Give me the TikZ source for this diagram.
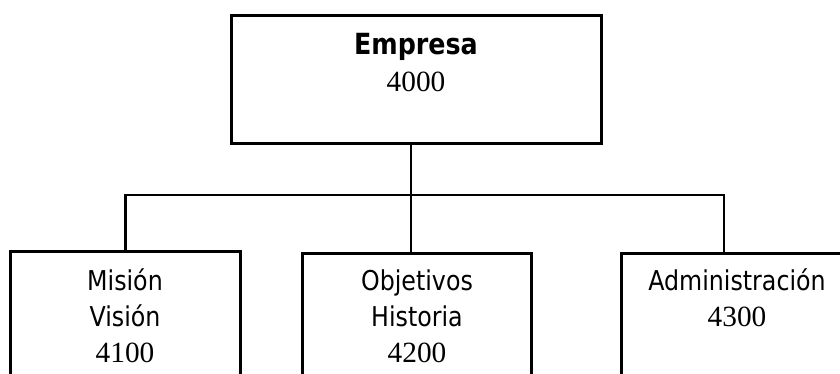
\documentclass[tikz,border=0pt]{standalone}
\usepackage{fontspec}
\setmainfont{Liberation Serif}
\setsansfont{DejaVu Sans}
\newcommand\alto[1]{\scalebox{1}[1.15]{#1}}

\begin{document}
\begin{tikzpicture}[x=0.75pt,y=-0.75pt,
    caja/.style={draw,line width=2.4pt,inner sep=0pt,anchor=north},
    linea/.style={line width=2.2pt},
    titulo/.style={anchor=base,font=\sffamily\fontsize{17.8}{21}\selectfont},
    numero/.style={anchor=base,font=\fontsize{22}{26}\selectfont}]
\useasboundingbox (0,0) rectangle (840,374);

% cajas
\node[caja,minimum width=278pt,minimum height=96pt] (empresa) at (416.5,14) {};
\node[caja,minimum width=172pt,minimum height=150pt] (mision) at (125.5,250) {};
\node[caja,minimum width=172pt,minimum height=150pt] (objetivos) at (417,252) {};
\node[caja,minimum width=172pt,minimum height=150pt] (admin) at (736,252) {};

% textos
\node[anchor=base,font=\sffamily\bfseries\fontsize{19}{23}\selectfont] (tempresa) at (416,55) {\alto{Empresa}};
\node[numero] (nempresa) at (416,92) {4000};

\node[titulo] (tmision) at (125,291) {\alto{Misión}};
\node[titulo] (tvision) at (125,327) {\alto{Visión}};
\node[numero] (nmision) at (125,363) {4100};

\node[titulo] (tobjetivos) at (417,291) {\alto{Objetivos}};
\node[titulo] (thistoria) at (417,327) {\alto{Historia}};
\node[numero] (nobjetivos) at (417,363) {4200};

\node[titulo] (tadmin) at (737,291) {\alto{Administración}};
\node[numero] (nadmin) at (737,326) {4300};

% conectores
\coordinate (bus) at (411,195);
\coordinate (rama) at (724,195);
\draw[linea] (empresa.south -| bus) -- (objetivos.north -| bus);
\draw[linea] (mision.north) |- (rama) -- (admin.north -| rama);
\end{tikzpicture}
\end{document}
